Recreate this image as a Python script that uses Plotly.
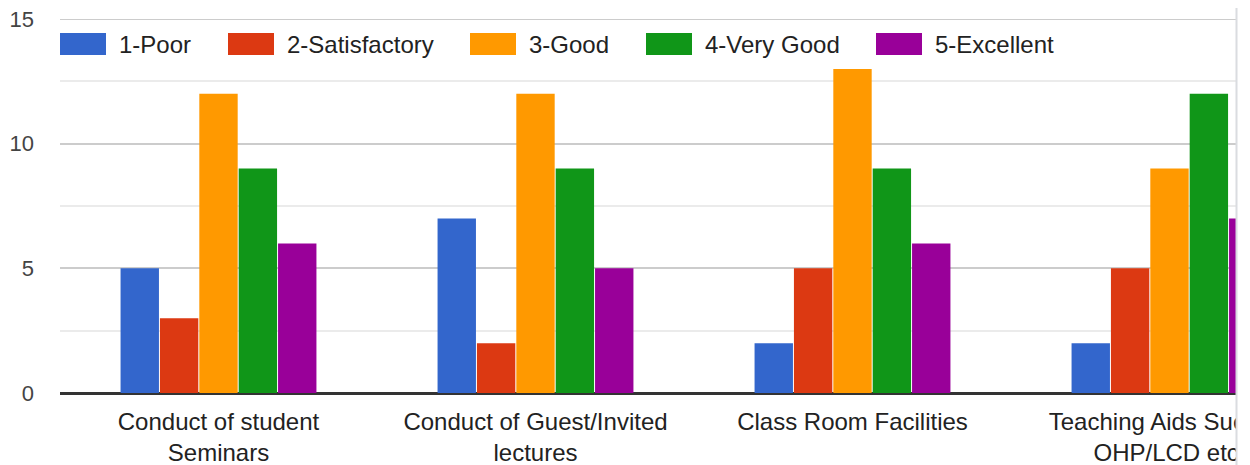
import plotly.graph_objects as go

categories = [
    "Conduct of student<br>Seminars",
    "Conduct of Guest/Invited<br>lectures",
    "Class Room Facilities",
    "Teaching Aids Such as<br>OHP/LCD etc.",
]
series_names = ["1-Poor", "2-Satisfactory", "3-Good", "4-Very Good", "5-Excellent"]
poor = [5, 7, 2, 2]
satisfactory = [3, 2, 5, 5]
good = [12, 12, 13, 9]
very_good = [9, 9, 9, 12]
excellent = [6, 5, 6, 7]
series_values = [poor, satisfactory, good, very_good, excellent]
y_ticks = [0, 5, 10, 15]

colors = ["#3366cc", "#dc3912", "#ff9900", "#109618", "#990099"]
FONT = "Arial, 'Liberation Sans', sans-serif"

# page has an 8px body margin; figure sized so plot area lands at x 60..1236, y 19..393
OFF = 8
W, H = 1242, 457
L, R, T, B = 52, 14, 11, 72
PW = W - L - R   # 1176
PH = H - T - B   # 374
BAND = 317.0
PLOT_L, PLOT_B = OFF + L, OFF + H - B   # page coords of plot origin

fig = go.Figure()
for name, color, vals in zip(series_names, colors, series_values):
    fig.add_bar(x=categories, y=vals, name=name, marker_color=color,
                marker_line_width=0)

def px_x(p):
    return (p - PLOT_L) / PW

def px_y(p):
    return (PLOT_B - p) / PH

shapes = []
annotations = []

# top gridline (plotly drops gridlines lying exactly on the range end)
shapes.append(dict(type="line", xref="paper", yref="y", x0=0, x1=1,
                   y0=y_ticks[-1], y1=y_ticks[-1],
                   line=dict(color="#cccccc", width=2), layer="below"))

legend_x = [60, 228, 470, 646, 876]
for name, color, lx in zip(series_names, colors, legend_x):
    shapes.append(dict(type="rect", xref="paper", yref="paper",
                       x0=px_x(lx), x1=px_x(lx + 46), y0=px_y(55), y1=px_y(33),
                       fillcolor=color, line=dict(width=0), layer="above"))
    annotations.append(dict(xref="paper", yref="paper", x=px_x(lx + 57), y=px_y(44),
                            text=name, showarrow=False, xanchor="left", yanchor="middle",
                            font=dict(family=FONT, size=24, color="#222222")))

# white cover to the right of the cut + thin border line
shapes.append(dict(type="rect", xref="paper", yref="paper",
                   x0=px_x(1237), x1=px_x(1270), y0=px_y(480), y1=px_y(-10),
                   fillcolor="white", line=dict(width=0), layer="above"))
shapes.append(dict(type="line", xref="paper", yref="paper",
                   x0=px_x(1236.5), x1=px_x(1236.5), y0=px_y(470), y1=px_y(-5),
                   line=dict(color="#dadce0", width=2), layer="above"))

fig.update_layout(
    width=W, height=H,
    margin=dict(l=L, r=R, t=T, b=B, pad=0),
    paper_bgcolor="white", plot_bgcolor="white",
    barmode="group", bargap=0.379, bargroupgap=0.025,
    showlegend=False,
    font=dict(family=FONT, color="#222222"),
    shapes=shapes, annotations=annotations,
    xaxis=dict(type="category", range=[-0.5, -0.5 + PW / BAND],
               showgrid=False, showline=False, zeroline=False, ticks="",
               tickangle=0, automargin=False, ticklabelstandoff=12,
               ticklabeloverflow="allow",
               tickfont=dict(family=FONT, size=24, color="#222222")),
    yaxis=dict(range=[0, 15.001], tickvals=y_ticks, ticktext=[str(v) for v in y_ticks],
               showgrid=True, gridcolor="#cccccc", gridwidth=2,
               minor=dict(dtick=2.5, tick0=0, showgrid=True, gridcolor="#ebebeb", gridwidth=2),
               zeroline=True, zerolinecolor="#333333", zerolinewidth=3,
               showline=False, ticks="", ticklabelstandoff=25, automargin=False,
               ticklabeloverflow="allow",
               tickfont=dict(family=FONT, size=22, color="#444444")),
)

fig.write_html("out.html")
